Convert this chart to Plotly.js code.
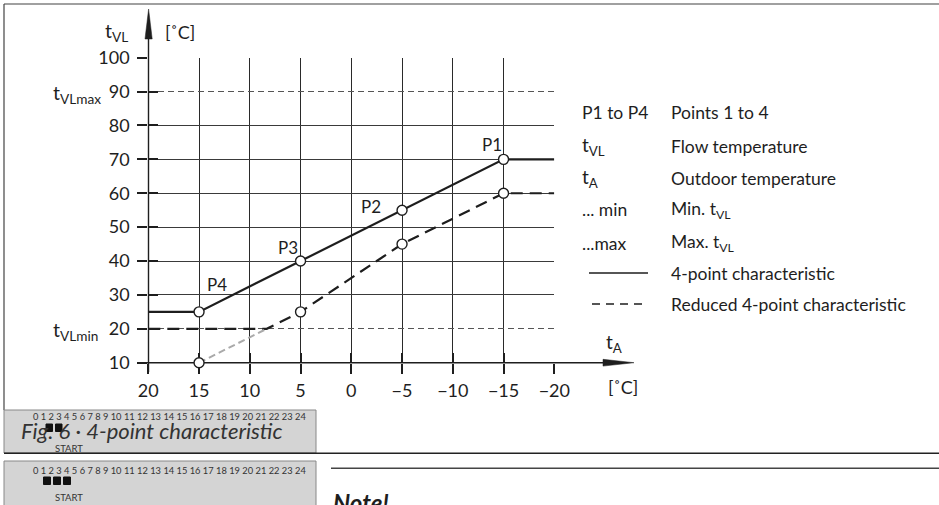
<!DOCTYPE html>
<html>
<head>
<meta charset="utf-8">
<script src="https://cdn.plot.ly/plotly-3.0.1.min.js"></script>
<style>html,body{margin:0;padding:0;background:#fff;}#chart{width:939px;height:505px;}</style>
</head>
<body>
<div id="chart"></div>
<script>
// ---- data ----
const xTickVals = [20, 15, 10, 5, 0, -5, -10, -15, -20];
const xTickText = ['20', '15', '10', '5', '0', '\u22125', '\u221210', '\u221215', '\u221220'];
const yTickVals = [10, 30, 40, 50, 60, 70, 80, 100];
const yLimitVals = [20, 90];            // tVLmin, tVLmax
const yAllTicks = [10, 20, 30, 40, 50, 60, 70, 80, 90, 100];
const pointX = [15, 5, -5, -15];       // P4, P3, P2, P1 (outdoor temperature)
const charY = [25, 40, 55, 70];        // 4-point characteristic
const reducedY = [10, 25, 45, 60];     // reduced 4-point characteristic
const pointNames = ['P4', 'P3', 'P2', 'P1'];
const tVLmin = 20;
const xMax = 20, xMin = -20;

// ---- derived curves ----
const solidX = [xMax, ...pointX, xMin];
const solidY = [charY[0], ...charY, charY[3]];
// where the reduced curve crosses tVLmin
const xc = pointX[0] + (tVLmin - reducedY[0]) * (pointX[1] - pointX[0]) / (reducedY[1] - reducedY[0]);
const redX = [xMax, xc, ...pointX.slice(1), xMin];
const redY = [tVLmin, tVLmin, ...reducedY.slice(1), reducedY[3]];
const grayX = [pointX[0], xc];
const grayY = [reducedY[0], tVLmin];

const W = 939, H = 505;
const px = x => x / W;
const py = y => 1 - y / H;
const FONT = 'Lato, "Open Sans", sans-serif';
const INK = '#1e1e1e';

const traces = [
  {x: solidX, y: solidY, xaxis: 'x', yaxis: 'y', mode: 'lines',
   line: {color: INK, width: 2.2}, hoverinfo: 'skip'},
  {x: redX, y: redY, xaxis: 'x', yaxis: 'y', mode: 'lines',
   line: {color: INK, width: 2.2, dash: '12px,7px'}, hoverinfo: 'skip'},
  {x: grayX, y: grayY, xaxis: 'x', yaxis: 'y2', mode: 'lines',
   line: {color: '#aaaaaa', width: 2, dash: '7px,4px'}, hoverinfo: 'skip'},
  {x: [...pointX, ...pointX], y: [...charY, ...reducedY], xaxis: 'x2', yaxis: 'y3', mode: 'markers',
   cliponaxis: false,
   marker: {symbol: 'circle', size: 10, color: '#ffffff', line: {color: INK, width: 1.4}}, hoverinfo: 'skip'}
];

const xDom = [px(148.3), px(554.3)];
const yDom = [py(362.7), py(57.7)];
const tickFont = {family: FONT, size: 18, color: INK};

function ann(text, x, y, o) {
  return Object.assign({text: text, x: px(x), y: py(y), xref: 'paper', yref: 'paper',
    showarrow: false, xanchor: 'left', yanchor: 'middle',
    font: {family: FONT, size: 17.5, color: INK}}, o || {});
}

const annotations = [];
// axis titles
annotations.push(ann('t<sub>VL</sub>', 116, 32, {xanchor: 'center', font: {family: FONT, size: 19.5, color: INK}}));
annotations.push(ann('[\u02daC]', 163, 32, {font: {family: FONT, size: 18, color: INK}}));
annotations.push(ann('t<sub>VLmax</sub>', 51, 94, {font: {family: FONT, size: 19.5, color: INK}}));
annotations.push(ann('t<sub>VLmin</sub>', 51, 331, {font: {family: FONT, size: 19.5, color: INK}}));
annotations.push(ann('t<sub>A</sub>', 604, 343, {font: {family: FONT, size: 19, color: INK}}));
annotations.push(ann('[\u02daC]', 606, 387, {font: {family: FONT, size: 18, color: INK}}));

// point labels
const labelShift = {P1: [-12, 15], P2: [-31, 4], P3: [-13, 14], P4: [18, 27]};
pointNames.forEach((n, i) => {
  annotations.push({text: n, x: pointX[i], y: charY[i], xref: 'x', yref: 'y', showarrow: false,
    xanchor: 'center', yanchor: 'middle', xshift: labelShift[n][0], yshift: labelShift[n][1],
    font: {family: FONT, size: 17, color: INK}});
});

// legend table
const legCol1 = ['P1 to P4', 't<sub>VL</sub>', 't<sub>A</sub>', '... min', '...max', '', ''];
const legCol2 = ['Points 1 to 4', 'Flow temperature', 'Outdoor temperature', 'Min. t<sub>VL</sub>',
                 'Max. t<sub>VL</sub>', '4-point characteristic', 'Reduced 4-point characteristic'];
const legRowY = [113, 146, 178, 210, 243, 273, 304];
legCol1.forEach((t, i) => { if (t) annotations.push(ann(t, 580, legRowY[i], t.indexOf('sub') > 0 ? {font: {family: FONT, size: 19, color: INK}} : {})); });
legCol2.forEach((t, i) => annotations.push(ann(t, 669, legRowY[i])));

// caption boxes
const hours = Array.from({length: 25}, (_, i) => i).join(' ');
annotations.push(ann('<i>Fig. 6 \u00b7 4-point characteristic</i>', 19, 430, {font: {family: FONT, size: 22, color: '#333'}}));
annotations.push(ann(hours, 31, 416, {font: {family: FONT, size: 9.3, color: '#333'}}));
annotations.push(ann('START', 53, 448, {font: {family: FONT, size: 9.5, color: '#333'}}));
annotations.push(ann(hours, 31, 470, {font: {family: FONT, size: 9.3, color: '#333'}}));
annotations.push(ann('START', 53, 497, {font: {family: FONT, size: 9.5, color: '#333'}}));
annotations.push(ann('<b><i>Note!</i></b>', 331, 486, {yanchor: 'top', font: {family: FONT, size: 24, color: INK}}));

function line(x0, y0, x1, y1, color, width, dash, layer) {
  return {type: 'line', xref: 'paper', yref: 'paper', x0: px(x0), y0: py(y0), x1: px(x1), y1: py(y1),
    line: {color: color, width: width, dash: dash || 'solid'}, layer: layer || 'below'};
}
function rect(x0, y0, x1, y1, fill, color) {
  return {type: 'rect', xref: 'paper', yref: 'paper', x0: px(x0), y0: py(y0), x1: px(x1), y1: py(y1),
    fillcolor: fill, line: {color: color, width: 1}, layer: 'below'};
}
function tri(pts) {
  return {type: 'path', xref: 'paper', yref: 'paper', layer: 'below',
    path: 'M' + pts.map(p => px(p[0]) + ',' + py(p[1])).join(' L') + ' Z',
    fillcolor: INK, line: {color: INK, width: 0.5}};
}

const shapes = [
  // page frame
  line(4, 4, 939, 4, '#808080', 1.5),
  line(4, 4, 4, 410, '#444', 1.2),
  // axes with arrows
  line(148.5, 372, 148.5, 30, INK, 1.4),
  tri([[148.6, 9], [145, 39], [152.2, 39]]),
  line(138, 362.7, 610, 362.7, INK, 1.4),
  tri([[634, 362.7], [603, 359.3], [603, 366.1]]),
  // legend line samples
  line(589, 273, 648, 273, INK, 1.6),
  line(592, 304, 648, 304, INK, 1.6, '8px,6px'),
  // caption boxes
  rect(4, 410, 316, 453, '#d4d4d4', '#888'),
  rect(4, 461, 316, 515, '#d4d4d4', '#888'),
  line(4, 453.3, 939, 453.3, '#222', 1.5),
  line(331, 468.3, 939, 468.3, '#444', 1.5),
  // squares of the hour display
  rect(46, 424, 52.5, 431.5, '#111', '#111'),
  rect(55.5, 424, 62, 431.5, '#111', '#111'),
  rect(43.5, 477, 50.5, 484.5, '#111', '#111'),
  rect(53.5, 477, 60.5, 484.5, '#111', '#111'),
  rect(63.5, 477, 70.5, 484.5, '#111', '#111')
];

const baseX = {domain: xDom, range: [xMax, xMin], fixedrange: true, zeroline: false, showline: false, layer: 'below traces'};
const baseY = {domain: yDom, range: [10, 100], fixedrange: true, zeroline: false, showline: false, layer: 'below traces'};

const layout = {
  width: W, height: H, margin: {l: 0, r: 0, t: 0, b: 0},
  paper_bgcolor: '#ffffff', plot_bgcolor: 'rgba(0,0,0,0)', showlegend: false,
  font: {family: FONT, color: INK},
  xaxis: Object.assign({}, baseX, {anchor: 'y', tickmode: 'array', tickvals: xTickVals, ticktext: xTickText,
    showgrid: true, gridcolor: '#2a2a2a', gridwidth: 1, ticks: 'outside', ticklen: 10, tickwidth: 2,
    tickcolor: INK, tickfont: tickFont, ticklabelstandoff: 2}),
  xaxis2: Object.assign({}, baseX, {overlaying: 'x', anchor: 'y3', side: 'bottom', tickmode: 'array',
    tickvals: xTickVals, showticklabels: false, showgrid: false, ticks: 'inside', ticklen: 10,
    tickwidth: 2, tickcolor: INK}),
  yaxis: Object.assign({}, baseY, {anchor: 'x', tickmode: 'array', tickvals: yTickVals,
    ticktext: yTickVals.map(String), showgrid: true, gridcolor: '#3a3a3a', gridwidth: 1,
    ticks: 'outside', ticklen: 10, tickwidth: 2, tickcolor: INK, tickfont: tickFont, ticklabelstandoff: 4}),
  yaxis2: Object.assign({}, baseY, {overlaying: 'y', anchor: 'x', side: 'left', tickmode: 'array',
    tickvals: yLimitVals, ticktext: yLimitVals.map(String), showgrid: true, gridcolor: '#555',
    gridwidth: 1, griddash: '6px,4px', ticks: 'outside', ticklen: 10, tickwidth: 2, tickcolor: INK,
    tickfont: tickFont, ticklabelstandoff: 4}),
  yaxis3: Object.assign({}, baseY, {overlaying: 'y', anchor: 'x2', side: 'left', tickmode: 'array',
    tickvals: yAllTicks, showticklabels: false, showgrid: false, ticks: 'inside', ticklen: 10,
    tickwidth: 2, tickcolor: INK}),
  annotations: annotations,
  shapes: shapes
};

Plotly.newPlot('chart', traces, layout, {staticPlot: true, displayModeBar: false});
</script>
</body>
</html>
